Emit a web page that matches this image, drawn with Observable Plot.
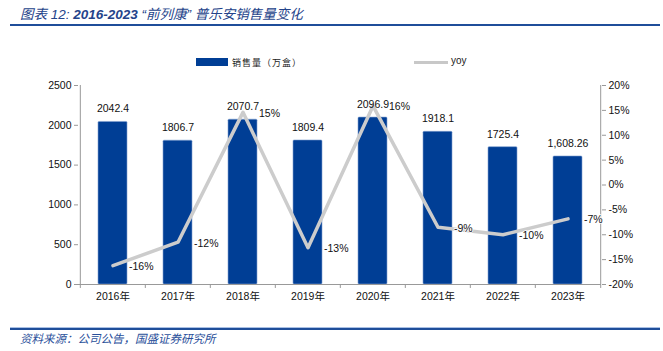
<!DOCTYPE html>
<html><head><meta charset="utf-8">
<script src="https://cdn.jsdelivr.net/npm/d3@7"></script>
<script src="https://cdn.jsdelivr.net/npm/@observablehq/plot@0.6"></script>
<style>
body{margin:0;background:#fff;width:663px;height:351px;position:relative;overflow:hidden;font-family:"Liberation Sans","Noto Sans CJK SC",sans-serif;}
#title{position:absolute;left:20px;top:3px;font-size:13.5px;font-style:italic;color:#24438a;white-space:nowrap;font-family:"Liberation Sans","Noto Sans CJK SC";}
#title b{font-weight:bold}
#rule1{position:absolute;left:10px;top:24px;width:650px;height:2px;background:#1f4e9a;}
#rule2{position:absolute;left:10px;top:327px;width:650px;height:2px;background:#1f4e9a;border-top:1px solid #a9c0e4;}
#source{position:absolute;left:20px;top:330px;font-size:11.5px;font-style:italic;color:#2a4f9a;white-space:nowrap;}
#legend{position:absolute;top:55px;left:0;width:663px;height:14px;font-size:9px;color:#222;}
#legend .sw{position:absolute;left:196px;top:3px;width:32px;height:8px;background:#003e95;}
#legend .t1{position:absolute;left:232px;top:1px;letter-spacing:1px;}
#legend .ln{position:absolute;left:414px;top:6px;width:34px;height:3px;background:#c8c8c8;}
#legend .t2{position:absolute;left:451px;top:0px;font-size:10px;}
#chart{position:absolute;left:0;top:70px;}
</style></head>
<body>
<div id="title">图表 12: <b>2016-2023</b> “前列康” 普乐安销售量变化</div>
<div id="rule1"></div>
<div id="legend"><div class="sw"></div><div class="t1">销售量（万盒）</div><div class="ln"></div><div class="t2">yoy</div></div>
<div id="chart"></div>
<div id="rule2"></div>
<div id="source">资料来源：公司公告，国盛证券研究所</div>
<script>
const years = ["2016年","2017年","2018年","2019年","2020年","2021年","2022年","2023年"];
const sales = [2042.4, 1806.7, 2070.7, 1809.4, 2096.9, 1918.1, 1725.4, 1608.26];
const salesLabels = ["2042.4","1806.7","2070.7","1809.4","2096.9","1918.1","1725.4","1,608.26"];
const yoy = [-16.2, -11.5, 14.6, -12.6, 15.9, -8.5, -10.0, -6.8];
const yoyLabels = ["-16%","-12%","15%","-13%","16%","-9%","-10%","-7%"];
const leftTicks = [0, 500, 1000, 1500, 2000, 2500];
const rightTicks = [-20, -15, -10, -5, 0, 5, 10, 15, 20];

const toLeft = p => (p + 20) / 40 * 2500;
const bars = years.map((y, i) => ({year: y, v: sales[i], lab: salesLabels[i]}));
const line = years.map((y, i) => ({year: y, v: toLeft(yoy[i]), lab: yoyLabels[i]}));
const half = 523 / 8 / 2;
const font = "Liberation Sans, Noto Sans CJK SC, sans-serif";

const chart = Plot.plot({
  width: 663, height: 240,
  marginLeft: 78, marginRight: 62, marginTop: 15, marginBottom: 26,
  style: {fontFamily: font, fontSize: "10px", color: "#111", background: "transparent"},
  x: {domain: years, paddingInner: 0.56, paddingOuter: 0.28, label: null},
  y: {domain: [0, 2500], label: null},
  marks: [
    Plot.barY(bars, {x: "year", y: "v", fill: "#003e95", stroke: "#7f9fd0", strokeWidth: 0.6, rx: 1}),
    Plot.ruleY([0], {stroke: "#999", strokeWidth: 1}),
    Plot.ruleX([years[0]], {dx: -half, y1: 0, y2: 2500, stroke: "#999"}),
    Plot.ruleX([years[7]], {dx: half, y1: 0, y2: 2500, stroke: "#999"}),
    Plot.ruleX(years, {dx: -half, y1: 0, y2: -50, stroke: "#999"}),
    Plot.ruleX([years[7]], {dx: half, y1: 0, y2: -50, stroke: "#999"}),
    Plot.axisY({anchor: "left", ticks: leftTicks, tickSize: 4, tickPadding: 3, stroke: "#999", fontSize: 10.5, label: null, tickFormat: d => String(d)}),
    Plot.axisY({anchor: "right", ticks: rightTicks.map(toLeft), tickSize: 4, tickPadding: 3, stroke: "#999", fontSize: 10.5, label: null,
      tickFormat: d => Math.round(d / 2500 * 40 - 20) + "%"}),
    Plot.axisX({tickSize: 0, tickPadding: 8, fontSize: 10.5, label: null}),
    Plot.line(line, {x: "year", y: "v", stroke: "#cccccc", strokeWidth: 3.5}),
    Plot.text(bars, {x: "year", y: "v", text: "lab", dy: -13, fontSize: 10.5, fill: "#111"}),
    Plot.text(line, {x: "year", y: "v", text: "lab", textAnchor: "start", dx: 16, dy: 1, fontSize: 10.5, fill: "#111", stroke: "white", strokeWidth: 1.5, paintOrder: "stroke"})
  ]
});
document.getElementById("chart").appendChild(chart);
</script>
</body></html>
